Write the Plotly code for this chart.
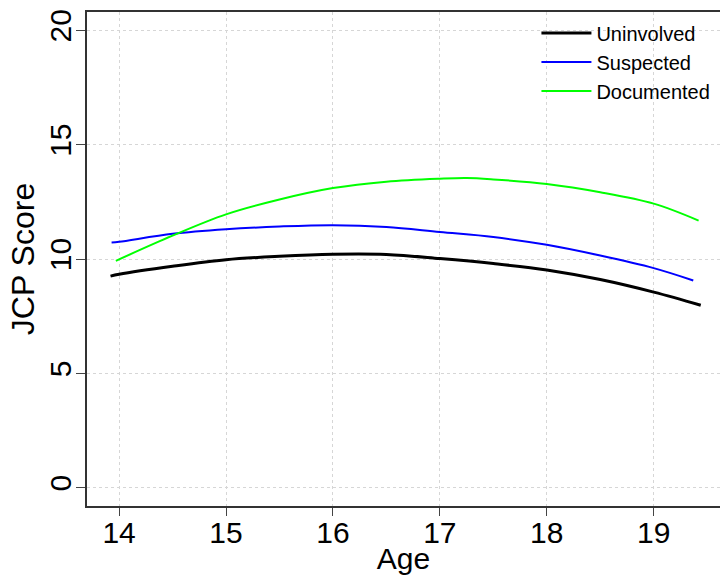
import plotly.graph_objects as go

age_uninvolved = [13.92, 14.0, 14.5, 15.0, 15.5, 16.0, 16.5, 17.0, 17.5, 18.0, 18.5, 19.0, 19.44]
jcp_uninvolved = [9.25, 9.33, 9.68, 9.97, 10.12, 10.21, 10.20, 10.02, 9.80, 9.52, 9.10, 8.55, 7.98]

age_suspected = [13.93, 14.0, 14.5, 15.0, 15.5, 16.0, 16.5, 17.0, 17.5, 18.0, 18.5, 19.0, 19.37]
jcp_suspected = [10.72, 10.75, 11.10, 11.30, 11.42, 11.48, 11.40, 11.18, 10.96, 10.62, 10.15, 9.60, 9.06]

age_documented = [13.97, 14.5, 15.0, 15.5, 16.0, 16.5, 17.0, 17.25, 17.5, 18.0, 18.5, 19.0, 19.42]
jcp_documented = [9.92, 11.02, 11.95, 12.60, 13.10, 13.38, 13.51, 13.54, 13.48, 13.28, 12.92, 12.42, 11.68]

x_ticks = [14, 15, 16, 17, 18, 19]
y_ticks = [0, 5, 10, 15, 20]

FONT = "Liberation Sans, Arial, sans-serif"

fig = go.Figure()
fig.add_trace(go.Scatter(x=age_uninvolved, y=jcp_uninvolved, mode="lines", name="Uninvolved",
                         line=dict(color="black", width=3, shape="spline")))
fig.add_trace(go.Scatter(x=age_suspected, y=jcp_suspected, mode="lines", name="Suspected",
                         line=dict(color="blue", width=2, shape="spline")))
fig.add_trace(go.Scatter(x=age_documented, y=jcp_documented, mode="lines", name="Documented",
                         line=dict(color="#00ff00", width=2, shape="spline")))

fig.update_layout(
    width=720, height=575,
    margin=dict(l=87, r=0, t=12, b=69),
    paper_bgcolor="white", plot_bgcolor="white",
    font=dict(family=FONT, color="black"),
    legend=dict(x=0.710, y=0.997, xanchor="left", yanchor="top",
                bgcolor="rgba(0,0,0,0)", font=dict(size=20, family=FONT),
                itemwidth=50, tracegroupgap=0),
    xaxis=dict(range=[13.70, 19.62], tickvals=x_ticks, ticks="outside", ticklen=8,
               tickcolor="#444", tickwidth=1, showline=True, mirror=True,
               linecolor="#333", linewidth=1.5, showgrid=True, gridcolor="#d6d6d6",
               griddash="dot", gridwidth=1, zeroline=False, automargin=False,
               tickfont=dict(size=30, family=FONT), ticklabelstandoff=-9,
               title=dict(text="Age", font=dict(size=30, family=FONT), standoff=9)),
    yaxis=dict(range=[-0.8, 20.8], tickvals=y_ticks, ticks="outside", ticklen=9,
               tickcolor="#444", tickwidth=1, showline=True, mirror=False,
               linecolor="#333", linewidth=1.5, showgrid=True, gridcolor="#d6d6d6",
               griddash="dot", gridwidth=1, zeroline=False, tickangle=-90, automargin=False,
               tickfont=dict(size=30, family=FONT), ticklabelstandoff=-7,
               title=dict(text="JCP Score", font=dict(size=32, family=FONT), standoff=0)),
)

fig.write_html("out.html")
